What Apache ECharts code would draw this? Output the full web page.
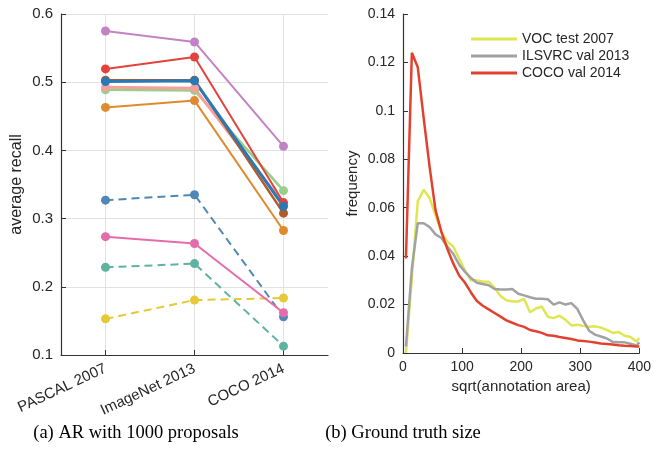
<!DOCTYPE html>
<html>
<head>
<meta charset="utf-8">
<script src="https://cdn.jsdelivr.net/npm/echarts@6/dist/echarts.min.js"></script>
<style>
html,body{margin:0;padding:0;background:#fff;}
#chart{width:654px;height:464px;}
</style>
</head>
<body>
<div id="chart"></div>
<script>
// ---- Left panel: AR with 1000 proposals ----
var datasets = ['PASCAL 2007', 'ImageNet 2013', 'COCO 2014'];
var arPurple = [0.575, 0.559, 0.406];
var arRed = [0.5195, 0.537, 0.3235];
var arBrown = [0.503, 0.503, 0.308];
var arSalmon = [0.4925, 0.491, 0.322];
var arGreen = [0.489, 0.488, 0.341];
var arBlue = [0.501, 0.502, 0.318];
var arOrange = [0.463, 0.473, 0.2825];
var arSteelDashed = [0.327, 0.335, 0.156];
var arPink = [0.2735, 0.2635, 0.162];
var arTealDashed = [0.2285, 0.234, 0.113];
var arYellowDashed = [0.153, 0.1805, 0.1835];

// ---- Right panel: Ground truth size ----
var sizeX = [5,15,25,35,45,55,65,75,85,95,105,115,125,135,145,155,165,175,185,195,205,215,225,235,245,255,265,275,285,295,305,315,325,335,345,355,365,375,385,395,400];
var vocFreq = [0.0,0.031,0.0626,0.0674,0.064,0.057,0.050,0.046,0.044,0.039,0.034,0.030,0.030,0.0295,0.0294,0.027,0.0235,0.0218,0.0213,0.0213,0.0223,0.0168,0.0184,0.0192,0.015,0.0144,0.0154,0.0137,0.0114,0.0117,0.0112,0.0108,0.011,0.0105,0.0095,0.0083,0.0087,0.0071,0.0066,0.0048,0.0062];
var ilsvrcFreq = [0.0027,0.035,0.0536,0.0536,0.052,0.049,0.0475,0.044,0.041,0.0365,0.0335,0.031,0.029,0.0285,0.028,0.0264,0.0262,0.0262,0.0264,0.0245,0.0238,0.023,0.0224,0.0224,0.0222,0.020,0.0209,0.020,0.0206,0.0182,0.0135,0.0092,0.0076,0.0068,0.006,0.0046,0.0044,0.0044,0.0038,0.0031,0.0044];
var cocoFreq = [0.039,0.124,0.118,0.097,0.077,0.059,0.050,0.043,0.037,0.032,0.029,0.025,0.0215,0.0195,0.018,0.0165,0.015,0.0135,0.0125,0.0115,0.0108,0.0095,0.009,0.0083,0.0073,0.0071,0.0066,0.0062,0.0058,0.0052,0.005,0.0047,0.0043,0.0039,0.0037,0.0035,0.0032,0.003,0.0029,0.0027,0.0027];
var legendNames = ['VOC test 2007', 'ILSVRC val 2013', 'COCO val 2014'];

function zip(xs, ys){ return xs.map(function(x,i){ return [x, ys[i]]; }); }

var txt = '#262626';
var sans = 'Liberation Sans, Arial, Helvetica, sans-serif';

function arSeries(name, data, color, dashed, width){
  return {
    name: name, type: 'line', xAxisIndex: 0, yAxisIndex: 0,
    data: data, symbol: 'circle', symbolSize: 9,
    itemStyle: { color: color },
    lineStyle: { color: color, width: width || 2, type: dashed ? [8, 5] : 'solid' },
    emphasis: { disabled: true }, animation: false
  };
}

var series = [
  arSeries('m1', arYellowDashed, '#e6c935', true),
  arSeries('m2', arTealDashed, '#5db39f', true),
  arSeries('m3', arSteelDashed, '#4f88b6', true),
  arSeries('m4', arPink, '#e56cac', false),
  arSeries('m5', arPurple, '#c283c6', false),
  arSeries('m6', arOrange, '#e08a2e', false),
  arSeries('m7', arGreen, '#97cf8b', false, 2.5),
  arSeries('m8', arSalmon, '#f4a09d', false, 3),
  arSeries('m9', arBrown, '#b35a2a', false, 2.5),
  arSeries('m10', arRed, '#e2433a', false),
  arSeries('m11', arBlue, '#2a78b6', false, 3)
];
series[0].markLine = {
  silent: true, symbol: 'none', label: { show: false },
  lineStyle: { color: '#e2e2e2', width: 1, type: 'solid' },
  data: datasets.map(function(d){ return { xAxis: d }; }),
  z: 0
};

var rightColors = ['#dfe651', '#a2a2a2', '#e2412f'];
var rightData = [vocFreq, ilsvrcFreq, cocoFreq];
legendNames.forEach(function(n, i){
  series.push({
    name: n, type: 'line', xAxisIndex: 1, yAxisIndex: 1,
    data: zip(sizeX, rightData[i]), showSymbol: false, symbol: 'none',
    lineStyle: { color: rightColors[i], width: 2.5 },
    itemStyle: { color: rightColors[i] },
    emphasis: { disabled: true }, animation: false
  });
});

var option = {
  backgroundColor: '#fff',
  animation: false,
  textStyle: { fontFamily: sans },
  grid: [
    { left: 61, top: 14, width: 267, height: 341 },
    { left: 403, top: 14, width: 242, height: 339 }
  ],
  xAxis: [
    {
      gridIndex: 0, type: 'category', data: datasets, boundaryGap: true,
      axisLine: { lineStyle: { color: '#333', width: 1.2 } },
      axisTick: { show: true, inside: true, alignWithLabel: true, length: 5, lineStyle: { color: '#333' } },
      axisLabel: { rotate: 25, color: txt, fontSize: 15, margin: 13, fontFamily: sans },
      splitLine: { show: false }
    },
    {
      gridIndex: 1, type: 'value', min: 0, max: 400, interval: 100,
      name: 'sqrt(annotation area)', nameLocation: 'middle', nameGap: 23,
      nameTextStyle: { color: txt, fontSize: 15, fontFamily: sans },
      axisLine: { show: true, lineStyle: { color: '#333', width: 1.2 } },
      axisTick: { show: true, inside: true, length: 5, lineStyle: { color: '#333' } },
      axisLabel: { color: txt, fontSize: 14, margin: 7, fontFamily: sans },
      splitLine: { show: false }
    }
  ],
  yAxis: [
    {
      gridIndex: 0, type: 'value', min: 0.1, max: 0.6, interval: 0.1,
      name: 'average recall', nameLocation: 'middle', nameGap: 36,
      nameTextStyle: { color: txt, fontSize: 16, fontFamily: sans },
      axisLine: { show: true, lineStyle: { color: '#333', width: 1.2 } },
      axisTick: { show: true, inside: true, length: 5, lineStyle: { color: '#333' } },
      axisLabel: { color: txt, fontSize: 15, margin: 8, fontFamily: sans,
        formatter: function(v){ return (+v.toFixed(1)).toString(); } },
      splitLine: { show: true, lineStyle: { color: '#e2e2e2', width: 1 } }
    },
    {
      gridIndex: 1, type: 'value', min: 0, max: 0.14, interval: 0.02,
      name: 'frequency', nameLocation: 'middle', nameGap: 43,
      nameTextStyle: { color: txt, fontSize: 15, fontFamily: sans },
      axisLine: { show: true, lineStyle: { color: '#333', width: 1.2 } },
      axisTick: { show: true, inside: true, length: 5, lineStyle: { color: '#333' } },
      axisLabel: { color: txt, fontSize: 14, margin: 8, fontFamily: sans,
        formatter: function(v){ return (+v.toFixed(2)).toString(); } },
      splitLine: { show: false }
    }
  ],
  legend: {
    data: legendNames, orient: 'vertical', left: 466, top: 26,
    icon: 'rect', itemWidth: 46, itemHeight: 3, itemGap: 1,
    textStyle: { color: txt, fontSize: 14, fontFamily: sans, lineHeight: 16 },
    selectedMode: false
  },
  graphic: [
    { type: 'text', x: 136, y: 424, style: { text: '(a) AR with 1000 proposals', fill: '#000', font: '18.5px "Liberation Serif", "DejaVu Serif", serif', textAlign: 'center' } },
    { type: 'text', x: 403, y: 424, style: { text: '(b) Ground truth size', fill: '#000', font: '18.5px "Liberation Serif", "DejaVu Serif", serif', textAlign: 'center' } }
  ],
  series: series
};
var chart = echarts.init(document.getElementById('chart'), null, { renderer: 'canvas' });
chart.setOption(option);
</script>
</body>
</html>
